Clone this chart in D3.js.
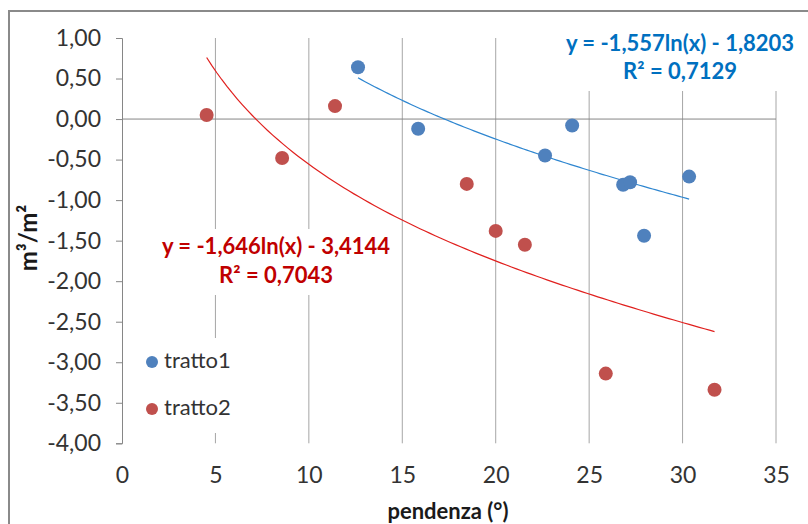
<!DOCTYPE html>
<html><head><meta charset="utf-8">
<script src="https://cdn.jsdelivr.net/npm/d3@7"></script>
<style>
body{margin:0;background:#fff}
svg{display:block}
text{font-family:Lato,"Open Sans",sans-serif}
</style>
</head><body>
<svg id="chart" width="808" height="524"></svg>
<script>
// Slope (degrees) vs. volume change per area, two stretches
const tratto1X = [12.63, 15.85, 22.64, 24.09, 26.82, 27.19, 27.94, 30.35];
const tratto1Y = [0.64, -0.12, -0.45, -0.08, -0.81, -0.78, -1.44, -0.71];
const tratto2X = [4.53, 8.57, 11.40, 18.45, 20.00, 21.56, 25.89, 31.71];
const tratto2Y = [0.05, -0.48, 0.16, -0.80, -1.38, -1.55, -3.14, -3.34];
const seriesNames = ["tratto1", "tratto2"];

// Logarithmic fits, computed on the slope expressed as a gradient tan(angle)
const fitCoefA = [-1.557, -1.646];
const fitCoefB = [-1.8203, -3.4144];
const fitR2 = ["0,7129", "0,7043"];

const xTicks = [0, 5, 10, 15, 20, 25, 30, 35];
const yTicks = [1, 0.5, 0, -0.5, -1, -1.5, -2, -2.5, -3, -3.5, -4];

const xTitle = "pendenza (°)";
const yTitle = "m³/m²";

const svg = d3.select("#chart");
const fmt = v => d3.format(".2f")(v).replace("−", "-").replace(".", ",");

const x = d3.scaleLinear().domain([0, 35]).range([122, 776]);
const y = d3.scaleLinear().domain([-4, 1]).range([443.3, 38]);

const pointColors = ["#4F81BD", "#C0504D"];
const lineColors = ["#2E86D0", "#E0201E"];
const labelColors = ["#0070C0", "#C00000"];

// outer chart frame
svg.append("rect").attr("x", 9).attr("y", 11).attr("width", 840).attr("height", 560)
  .attr("fill", "#fff").attr("stroke", "#8a8a8a").attr("stroke-width", 2);

// vertical gridlines
svg.append("g").selectAll("line").data(xTicks.slice(1)).join("line")
  .attr("x1", d => x(d)).attr("x2", d => x(d))
  .attr("y1", y(1)).attr("y2", y(-4))
  .attr("stroke", "#a6a6a6").attr("stroke-width", 1);

// y axis (left) with ticks
const yAxis = d3.axisLeft(y).tickValues(yTicks).tickSize(6).tickPadding(15).tickFormat(fmt);
const gy = svg.append("g").attr("transform", `translate(${x(0)},0)`).call(yAxis);
gy.select(".domain").attr("stroke", "#868686");
gy.selectAll(".tick line").attr("stroke", "#868686");
gy.selectAll(".tick text").attr("font-size", 23).attr("fill", "#333")
  .style("font-family", "Lato, sans-serif");

// x axis line crossing at zero
svg.append("line").attr("x1", x(0)).attr("x2", x(35)).attr("y1", y(0)).attr("y2", y(0))
  .attr("stroke", "#868686").attr("stroke-width", 1);

// x tick labels along the bottom
const xAxis = d3.axisBottom(x).tickValues(xTicks).tickSize(0).tickPadding(0).tickFormat(d => d);
const gx = svg.append("g").attr("transform", `translate(0,${y(-4)})`).call(xAxis);
gx.select(".domain").remove();
gx.selectAll(".tick text").attr("font-size", 23).attr("fill", "#333")
  .attr("dy", null).attr("y", 34).attr("dominant-baseline", "middle")
  .style("font-family", "Lato, sans-serif");

// axis titles
svg.append("text").attr("x", 448).attr("y", 513).attr("text-anchor", "middle")
  .attr("dominant-baseline", "middle").attr("font-size", 22).attr("font-weight", "bold")
  .attr("fill", "#1a1a1a").text(xTitle);
svg.append("text").attr("transform", "translate(31,238) rotate(-90)")
  .attr("text-anchor", "middle").attr("dominant-baseline", "middle")
  .attr("font-size", 24).attr("font-weight", "bold").attr("fill", "#1a1a1a").text(yTitle);

// trendlines
const series = [
  { xs: tratto1X, ys: tratto1Y },
  { xs: tratto2X, ys: tratto2Y }
];
series.forEach((s, i) => {
  const [lo, hi] = d3.extent(s.xs);
  const pts = d3.range(0, 101).map(k => {
    const deg = lo + (hi - lo) * k / 100;
    return [deg, fitCoefA[i] * Math.log(Math.tan(deg * Math.PI / 180)) + fitCoefB[i]];
  });
  svg.append("path").datum(pts)
    .attr("d", d3.line().x(d => x(d[0])).y(d => y(d[1])).curve(d3.curveLinear))
    .attr("fill", "none").attr("stroke", lineColors[i]).attr("stroke-width", 1.2);
});

// points
series.forEach((s, i) => {
  svg.append("g").selectAll("circle").data(s.xs.map((v, k) => [v, s.ys[k]])).join("circle")
    .attr("cx", d => x(d[0])).attr("cy", d => y(d[1])).attr("r", 7)
    .attr("fill", pointColors[i]);
});

// equation labels with white backing
function eqLabel(i, cx, cy1, cy2, box) {
  svg.append("rect").attr("x", box[0]).attr("y", box[1]).attr("width", box[2]).attr("height", box[3])
    .attr("fill", "#fff");
  const a = fitCoefA[i].toFixed(3).replace(".", ",");
  const b = Math.abs(fitCoefB[i]).toFixed(4).replace(".", ",");
  svg.append("text").attr("x", cx).attr("y", cy1).attr("text-anchor", "middle")
    .attr("dominant-baseline", "middle").attr("font-size", 22).attr("font-weight", "bold")
    .attr("fill", labelColors[i]).text(`y = ${a}ln(x) - ${b}`);
  svg.append("text").attr("x", cx).attr("y", cy2).attr("text-anchor", "middle")
    .attr("dominant-baseline", "middle").attr("font-size", 22).attr("font-weight", "bold")
    .attr("fill", labelColors[i]).text(`R² = ${fitR2[i]}`);
}
eqLabel(0, 680, 45, 73, [556, 36, 250, 55]);
eqLabel(1, 276, 248, 277, [152, 229, 245, 66]);

// legend
const lg = svg.append("g");
lg.append("rect").attr("x", 138).attr("y", 338).attr("width", 110).attr("height", 95).attr("fill", "#fff");
seriesNames.forEach((name, i) => {
  const cy = [362, 409][i];
  lg.append("circle").attr("cx", 152).attr("cy", cy).attr("r", 6).attr("fill", pointColors[i]);
  lg.append("text").attr("x", 164).attr("y", cy).attr("dominant-baseline", "middle")
    .attr("font-size", 22).attr("fill", "#333").text(name);
});
</script>
</body></html>
